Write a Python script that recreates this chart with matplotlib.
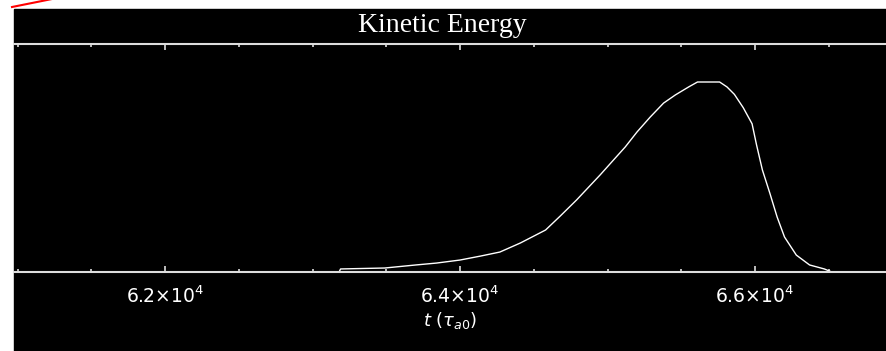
import matplotlib
matplotlib.use("Agg")
import matplotlib.pyplot as plt
from matplotlib.ticker import MultipleLocator, FixedLocator, FixedFormatter
from matplotlib.patches import Rectangle
from matplotlib.lines import Line2D

# kinetic energy (normalised to peak) vs time
t = [61050, 63180, 63190, 63490, 63700, 63840, 64000, 64140, 64270, 64410,
     64580, 64680, 64790, 64950, 65040, 65120, 65200, 65290, 65380, 65460,
     65550, 65610, 65680, 65760, 65810, 65860, 65920, 65980, 66010, 66050,
     66100, 66150, 66200, 66280, 66370, 66470, 66520, 66900]
ke = [0.0, 0.0, 0.016, 0.021, 0.037, 0.047, 0.063, 0.084, 0.105, 0.153,
      0.221, 0.295, 0.379, 0.511, 0.589, 0.658, 0.737, 0.816, 0.889, 0.932,
      0.974, 1.0, 1.0, 1.0, 0.974, 0.935, 0.865, 0.78, 0.67, 0.537,
      0.416, 0.289, 0.184, 0.089, 0.037, 0.016, 0.0, 0.0]

major_ticks = [62000, 64000, 66000]
major_labels = [r"$6.2{\times}10^{4}$", r"$6.4{\times}10^{4}$", r"$6.6{\times}10^{4}$"]

W, H = 886, 351
fig = plt.figure(figsize=(W / 100, H / 100), dpi=100, facecolor="white")

# black panel behind the plot
fig.patches.append(Rectangle((14 / W, 0), 1 - 14 / W, (H - 9) / H,
                             transform=fig.transFigure, color="black", zorder=-5))

ax = fig.add_axes([14 / W, (H - 272) / H, (W - 14) / W, (272 - 44) / H])
ax.set_facecolor("black")
ax.plot(t, ke, color="white", lw=1.0, clip_on=False)

ax.set_xlim(60976, 66888)
ax.set_ylim(0, 1.2)

ax.xaxis.set_major_locator(FixedLocator(major_ticks))
ax.xaxis.set_major_formatter(FixedFormatter(major_labels))
ax.xaxis.set_minor_locator(MultipleLocator(500))
ax.tick_params(axis="x", which="both", direction="in", top=True, bottom=True,
               colors="#dddddd", labelcolor="white", labelsize=13.5, pad=10)
ax.tick_params(axis="x", which="major", length=4, width=1.2)
ax.tick_params(axis="x", which="minor", length=2.5, width=1.2)
ax.set_yticks([])

for side in ["left", "right"]:
    ax.spines[side].set_visible(False)
for side in ["top", "bottom"]:
    ax.spines[side].set_color("#dddddd")
    ax.spines[side].set_linewidth(1.5)

ax.set_xlabel(r"$t$ ($\tau_{a0}$)", color="white", fontsize=13, labelpad=2)
fig.text(442 / W, (H - 26) / H, "Kinetic Energy", color="white",
         family="Liberation Serif", fontsize=20, ha="center", va="center")

fig.lines.append(Line2D([12 / W, 57 / W], [(H - 7) / H, (H + 2) / H],
                        transform=fig.transFigure, color="red", lw=1.5))

fig.savefig("out.png", dpi=100, facecolor="white")
